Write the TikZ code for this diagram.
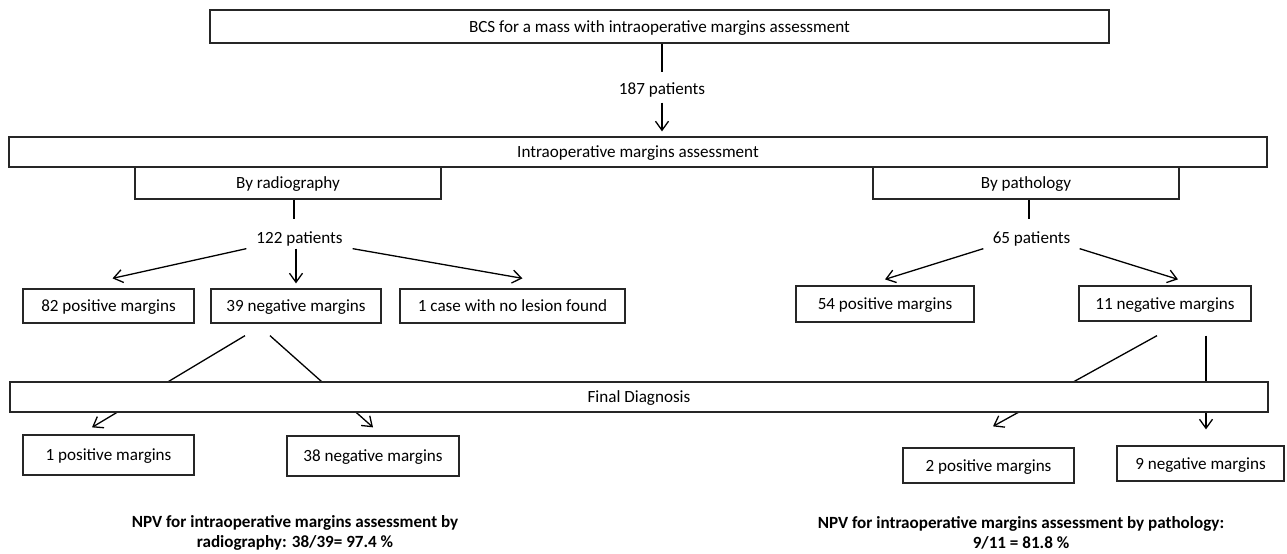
\documentclass[tikz,border=0pt]{standalone}
\usepackage{fontspec}
\setmainfont{Carlito}
\usetikzlibrary{arrows.meta}

\begin{document}
\begin{tikzpicture}[x=0.5pt,y=-0.5pt,
        font=\fontsize{8.55pt}{10pt}\selectfont,
        line width=0.65pt,
        >={Straight Barb[length=4.5pt,width=6.5pt]},
        box/.style 2 args={draw=black!85,fill=white,inner sep=0pt,text depth=0pt,minimum width=#1*0.5pt,minimum height=#2*0.5pt},
        lbl/.style={inner sep=0pt,minimum width=#1*0.5pt,minimum height=9pt},
        npv/.style={font=\fontsize{8.55pt}{10pt}\selectfont\bfseries,align=center}]
            \useasboundingbox (0,0) rectangle (1287,553);
            \node[box={899}{33}] (top) at (659.5,26.5) {BCS for a mass with intraoperative margins assessment};
            \node[lbl=90] (n187) at (662,90) {187 patients};
            \node[box={1258}{30}] (ass) at (638,152) {Intraoperative margins assessment};
            \draw[shorten >=4pt] (top.south -| n187) -- (n187.north);
            \draw[->,shorten <=1.5pt,shorten >=2.5pt] (n187.south) -- (n187 |- ass.north);
            \node[box={306}{32}] (rad) at (288,183) {By radiography};
            \node[box={306}{32}] (pat) at (1026,183) {By pathology};
            \node[lbl=105] (n122) at (299.5,239) {122 patients};
            \node[lbl=95] (n65) at (1031.5,239) {65 patients};
            \draw[shorten >=5pt] ([xshift=-2.75pt]n122.north |- rad.south) -- ([xshift=-2.75pt]n122.north);
            \draw[shorten >=5pt] ([xshift=-1.25pt]n65.north |- pat.south) -- ([xshift=-1.25pt]n65.north);
            \node[box={171}{34}] (p82) at (108.5,306) {82 positive margins};
            \node[box={170}{34}] (n39) at (296,306) {39 negative margins};
            \node[box={225}{34}] (nls) at (512.5,306) {1 case with no lesion found};
            \node[box={178}{36}] (p54) at (885,304) {54 positive margins};
            \node[box={172}{35}] (n11) at (1165,303.5) {11 negative margins};
            \draw[->] (n122.south west) -- ([xshift=2pt,yshift=5pt]p82.north);
            \draw[->] (n122.south -| n39) -- ([yshift=2.5pt]n39.north);
            \draw[->] (n122.south east) -- ([xshift=5pt,yshift=5pt]nls.north);
            \draw[->] (n65.south west) -- ([yshift=3pt]p54.north);
            \draw[->] (n65.south east) -- ([xshift=6.5pt,yshift=3pt]n11.north);
            \node[box={171}{40}] (p1) at (108.5,455) {1 positive margins};
            \node[box={172}{40}] (n38) at (373,456) {38 negative margins};
            \node[box={171}{35}] (p2) at (988.5,465.5) {2 positive margins};
            \node[box={167}{35}] (n9) at (1200.5,463.5) {9 negative margins};
            \draw[->] ([xshift=-25.5pt,yshift=-6pt]n39.south) -- ([xshift=-8.25pt,yshift=3.5pt]p1.north);
            \draw[->] ([xshift=-13pt,yshift=-6pt]n39.south) -- ([yshift=4pt]n38.north);
            \draw[->] ([xshift=-4pt,yshift=-7pt]n11.south) -- ([xshift=2.25pt,yshift=10.5pt]p2.north);
            \draw[->] ([xshift=20.5pt,yshift=-7pt]n11.south) -- ([xshift=2.75pt,yshift=8pt]n9.north);
            \node[box={1258}{30}] (fin) at (639,397) {Final Diagnosis};
            \node[npv] (npvr) at (295,533) {NPV for intraoperative margins assessment by\\radiography: 38/39= 97.4 \%};
            \node[npv] (npvp) at (1021,533) {NPV for intraoperative margins assessment by pathology:\\9/11 = 81.8 \%};
        \end{tikzpicture}
\end{document}
